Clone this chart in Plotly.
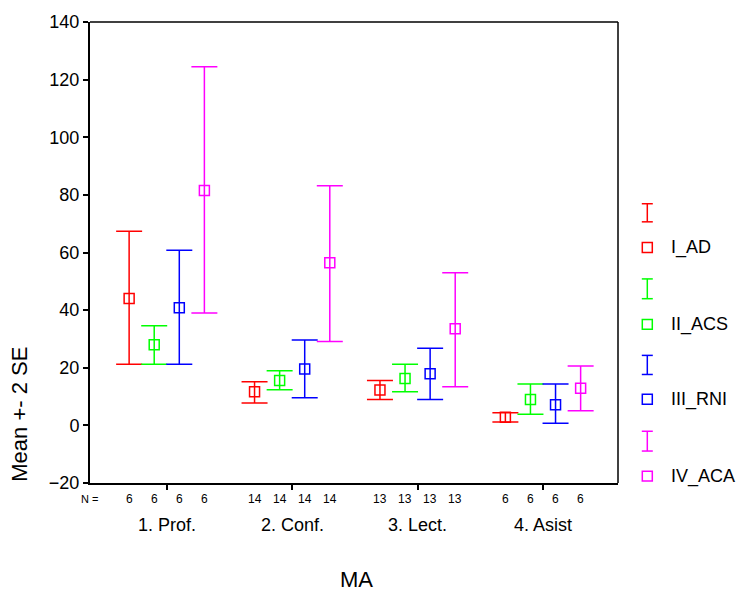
import plotly.graph_objects as go

categories = ["1. Prof.", "2. Conf.", "3. Lect.", "4. Asist"]
series_names = ["I_AD", "II_ACS", "III_RNI", "IV_ACA"]
colors = ["#FF0000", "#00FF00", "#0000FF", "#FF00FF"]

# mean, upper (mean+2SE), lower (mean-2SE) per series, per category
means = {
    "I_AD":    [44.0, 11.7, 12.3, 2.8],
    "II_ACS":  [28.0, 15.6, 16.3, 9.0],
    "III_RNI": [40.8, 19.6, 17.9, 7.2],
    "IV_ACA":  [81.5, 56.4, 33.5, 12.9],
}
uppers = {
    "I_AD":    [67.4, 15.1, 15.6, 4.4],
    "II_ACS":  [34.6, 19.0, 21.2, 14.4],
    "III_RNI": [60.8, 29.6, 26.8, 14.4],
    "IV_ACA":  [124.5, 83.2, 53.0, 20.6],
}
lowers = {
    "I_AD":    [21.2, 7.8, 9.0, 1.2],
    "II_ACS":  [21.2, 12.4, 11.7, 3.9],
    "III_RNI": [21.2, 9.6, 9.0, 0.7],
    "IV_ACA":  [39.0, 29.1, 13.4, 5.1],
}
n_counts = [6, 14, 13, 6]
y_ticks = [-20, 0, 20, 40, 60, 80, 100, 120, 140]

offsets = [-0.3, -0.1, 0.1, 0.3]

W, H = 736, 593
L, R, T, B = 90, 118, 17, 110
PW, PH = W - L - R, H - T - B

def px(xp):
    return (xp - L) / PW

def py(yp):
    return (H - B - yp) / PH

fig = go.Figure()
for i, name in enumerate(series_names):
    xs = [c + offsets[i] for c in range(len(categories))]
    m = means[name]
    up = [u - v for u, v in zip(uppers[name], m)]
    dn = [v - l for l, v in zip(lowers[name], m)]
    fig.add_trace(go.Scatter(
        x=xs, y=m, mode="markers", name=name, showlegend=False,
        marker=dict(symbol="square-open", size=10, color=colors[i],
                    line=dict(width=1.5, color=colors[i])),
        error_y=dict(type="data", symmetric=False, array=up, arrayminus=dn,
                     color=colors[i], thickness=1.5, width=13),
    ))

annotations = []
shapes = []
# N labels
for ci, c in enumerate(categories):
    for i in range(4):
        annotations.append(dict(x=ci + offsets[i], xref="x", y=py(499), yref="paper",
                                text=str(n_counts[ci]), showarrow=False,
                                font=dict(size=12, color="black"), xanchor="center", yanchor="middle"))
annotations.append(dict(x=px(89), xref="paper", y=py(499), yref="paper", text="N =",
                        showarrow=False, font=dict(size=11, color="black"),
                        xanchor="center", yanchor="middle"))
# category labels
for ci, c in enumerate(categories):
    annotations.append(dict(x=ci, xref="x", y=py(525.7), yref="paper", text=c,
                            showarrow=False, font=dict(size=18, color="black"),
                            xanchor="center", yanchor="middle"))
# axis titles
annotations.append(dict(x=px(20), xref="paper", y=py(414), yref="paper", text="Mean +- 2 SE",
                        textangle=-90, showarrow=False, font=dict(size=22, color="black"),
                        xanchor="center", yanchor="middle"))
annotations.append(dict(x=px(356), xref="paper", y=py(581), yref="paper", text="MA",
                        showarrow=False, font=dict(size=22, color="black"),
                        xanchor="center", yanchor="middle"))

# manual legend
leg_cx = 647.3
leg_items = [(200.7, 219.0, 245.0), (276.7, 296.7, 322.7), (354.0, 373.3, 398.3), (430.7, 450.7, 476.0)]
for i, (t, b, sq) in enumerate(leg_items):
    c = colors[i]
    shapes.append(dict(type="line", xref="paper", yref="paper", x0=px(leg_cx), x1=px(leg_cx),
                       y0=py(t), y1=py(b), line=dict(color=c, width=1.5)))
    for yy in (t, b):
        shapes.append(dict(type="line", xref="paper", yref="paper", x0=px(leg_cx - 5.5), x1=px(leg_cx + 5.5),
                           y0=py(yy), y1=py(yy), line=dict(color=c, width=1.5)))
    shapes.append(dict(type="rect", xref="paper", yref="paper", x0=px(leg_cx - 5), x1=px(leg_cx + 5),
                       y0=py(sq - 5), y1=py(sq + 5), line=dict(color=c, width=1.5)))
    annotations.append(dict(x=px(669), xref="paper", y=py(sq), yref="paper", text=series_names[i],
                            showarrow=False, font=dict(size=18, color="black"),
                            xanchor="left", yanchor="middle"))

# top/right frame
shapes.append(dict(type="line", xref="paper", yref="paper", x0=0, x1=1, y0=1, y1=1,
                   line=dict(color="black", width=1.5)))
shapes.append(dict(type="line", xref="paper", yref="paper", x0=1, x1=1, y0=0, y1=1,
                   line=dict(color="black", width=1.5)))

fig.update_layout(
    width=W, height=H,
    margin=dict(l=L, r=R, t=T, b=B),
    paper_bgcolor="white", plot_bgcolor="white",
    font=dict(family="Liberation Sans, Arial, sans-serif", color="black"),
    showlegend=False,
    annotations=annotations,
    shapes=shapes,
    xaxis=dict(range=[-0.612, 3.598], tickvals=list(range(len(categories))),
               ticktext=["" for _ in categories],
               showgrid=False, zeroline=False, showline=True, linecolor="black", linewidth=2,
               ticks="outside", ticklen=5, tickwidth=1.5, tickcolor="black"),
    yaxis=dict(range=[-20, 140], tickvals=y_ticks, showgrid=False, zeroline=False,
               showline=True, linecolor="black", linewidth=2,
               ticks="outside", ticklen=5, tickwidth=1.5, tickcolor="black",
               tickfont=dict(size=18, color="black")),
)

fig.write_html("out.html", config={"displayModeBar": False},
               post_script="document.body.style.margin='0';document.body.style.overflow='hidden';")
